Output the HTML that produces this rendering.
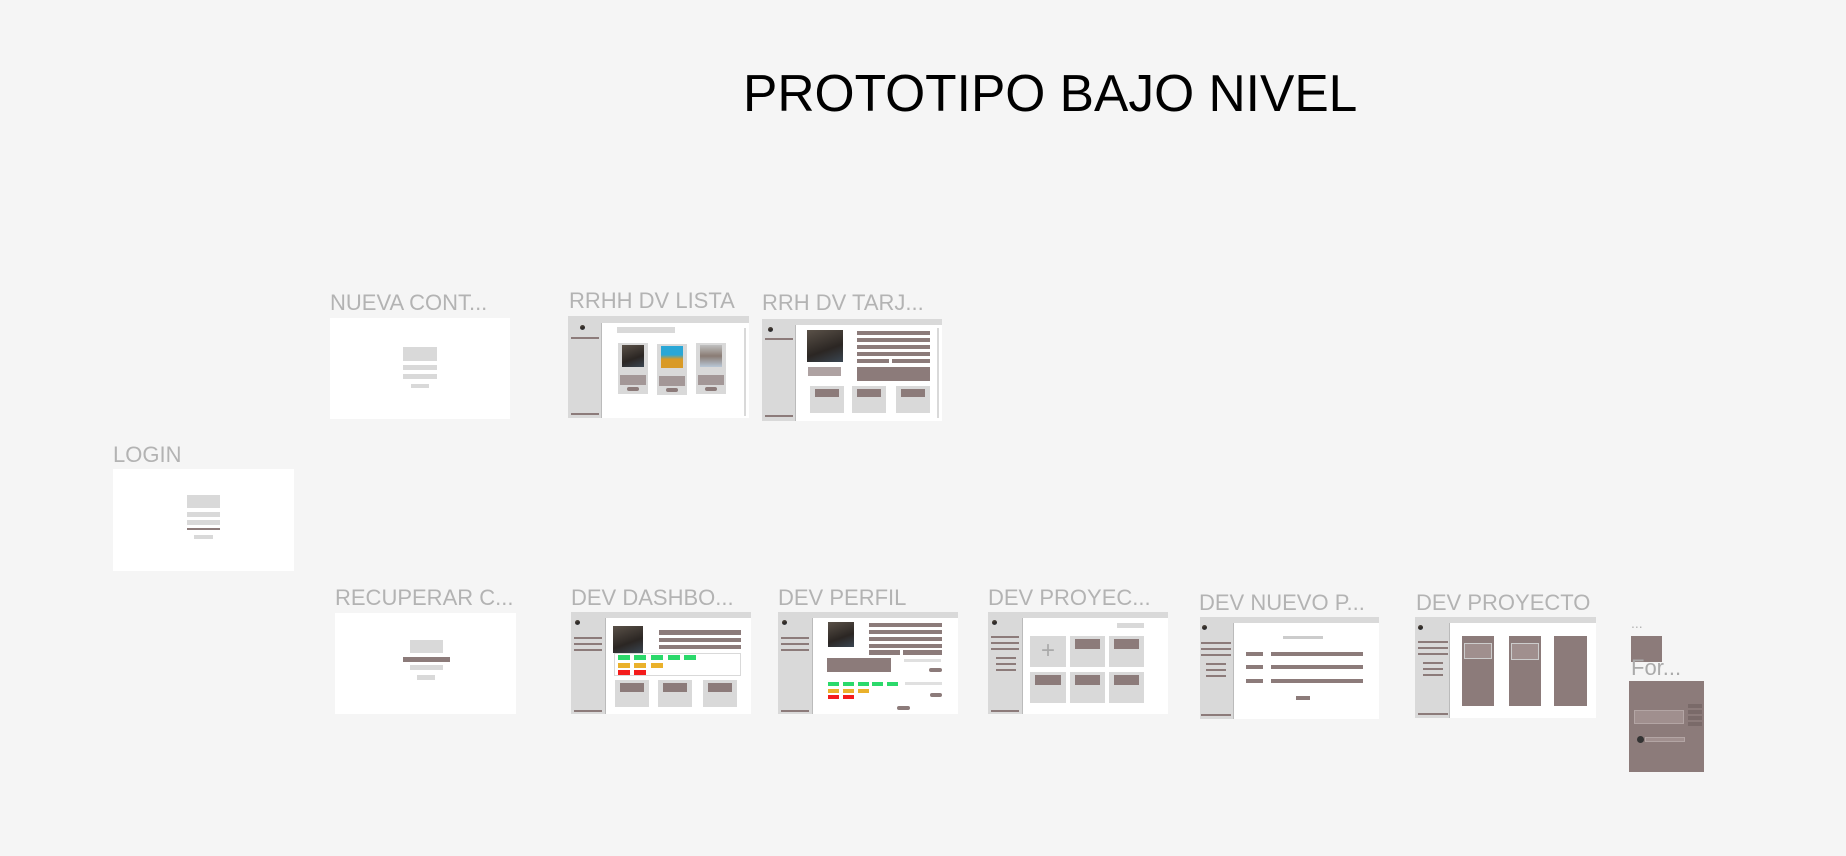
<!DOCTYPE html>
<html><head><meta charset="utf-8"><style>
*{margin:0;padding:0;box-sizing:border-box}
body{width:1846px;height:856px;background:#f5f5f5;position:relative;overflow:hidden;font-family:"Liberation Sans",sans-serif}
div{position:absolute}
.lbl{color:#b3b3b3;font-size:22px;white-space:nowrap;line-height:1}
.f{background:#fff}
.g{background:#d9d9d9}
.b{background:#8c7b7a}
.lg{background:#e0e0e0}
.gr{background:#2bd96b}
.or{background:#eab12b}
.rd{background:#f41c1c}
.ph{background:linear-gradient(160deg,#5a5148,#2b2623 60%,#3a4652)}
.pl{border-radius:3px}
</style></head><body>

<div style="left:743px;top:68px;font-size:51.5px;color:#000;white-space:nowrap;line-height:1">PROTOTIPO BAJO NIVEL</div>

<!-- LOGIN -->
<div class="lbl" style="left:113px;top:444px">LOGIN</div>
<div class="f" style="left:113px;top:469px;width:181px;height:102px"></div>
<div class="g" style="left:187px;top:495px;width:33px;height:13px"></div>
<div class="g" style="left:187px;top:512px;width:33px;height:5px"></div>
<div class="g" style="left:187px;top:520px;width:33px;height:5px"></div>
<div class="b" style="left:187px;top:528px;width:33px;height:2px"></div>
<div class="g" style="left:194px;top:535px;width:19px;height:4px"></div>

<!-- NUEVA -->
<div class="lbl" style="left:330px;top:292px">NUEVA CONT...</div>
<div class="f" style="left:330px;top:318px;width:180px;height:101px"></div>
<div class="g" style="left:403px;top:347px;width:34px;height:14px"></div>
<div class="g" style="left:403px;top:365px;width:34px;height:5px"></div>
<div class="g" style="left:403px;top:374px;width:34px;height:5px"></div>
<div class="g" style="left:411px;top:384px;width:18px;height:4px"></div>

<!-- RECUPERAR -->
<div class="lbl" style="left:335px;top:587px">RECUPERAR C...</div>
<div class="f" style="left:335px;top:613px;width:181px;height:101px"></div>
<div class="g" style="left:410px;top:640px;width:33px;height:13px"></div>
<div class="b" style="left:403px;top:657px;width:47px;height:5px"></div>
<div class="g" style="left:410px;top:665px;width:33px;height:5px"></div>
<div class="g" style="left:417px;top:675px;width:18px;height:5px"></div>

<!-- RRHH DV LISTA -->
<div class="lbl" style="left:569px;top:290px">RRHH DV LISTA</div>
<div class="f" style="left:568px;top:316px;width:181px;height:102px"></div>
<div class="g" style="left:568px;top:316px;width:181px;height:7px"></div>
<div class="g" style="left:568px;top:323px;width:34px;height:95px;border-right:1px solid #bbb"></div>
<div class="b" style="left:571px;top:337px;width:28px;height:2px"></div>
<div class="b" style="left:571px;top:413px;width:28px;height:2px"></div>
<div class="ph" style="left:580px;top:325px;width:5px;height:5px;border-radius:50%"></div>
<div class="g" style="left:617px;top:327px;width:58px;height:6px"></div>
<div class="g" style="left:744px;top:328px;width:2px;height:88px"></div>
<div class="g" style="left:618px;top:343px;width:30px;height:51px"></div>
<div class="ph" style="left:622px;top:345px;width:22px;height:22px"></div>
<div class="g" style="left:657px;top:344px;width:30px;height:51px"></div>
<div style="left:661px;top:346px;width:22px;height:22px;background:linear-gradient(#2aa7d6,#2aa7d6 40%,#d99a26 60%)"></div>
<div class="g" style="left:696px;top:343px;width:30px;height:51px"></div>
<div style="left:700px;top:345px;width:22px;height:22px;background:linear-gradient(#bfbfbf,#8a7c74 50%,#b8c7d6)"></div>
<div class="b" style="left:620px;top:375px;width:26px;height:10px;opacity:.7"></div>
<div class="b" style="left:659px;top:376px;width:26px;height:10px;opacity:.7"></div>
<div class="b" style="left:698px;top:375px;width:26px;height:10px;opacity:.7"></div>
<div class="b pl" style="left:627px;top:387px;width:12px;height:4px"></div>
<div class="b pl" style="left:666px;top:388px;width:12px;height:4px"></div>
<div class="b pl" style="left:705px;top:387px;width:12px;height:4px"></div>

<!-- RRH DV TARJ -->
<div class="lbl" style="left:762px;top:292px">RRH DV TARJ...</div>
<div class="f" style="left:762px;top:319px;width:180px;height:102px"></div>
<div class="g" style="left:762px;top:319px;width:180px;height:6px"></div>
<div class="g" style="left:762px;top:325px;width:34px;height:96px;border-right:1px solid #bbb"></div>
<div class="ph" style="left:768px;top:327px;width:5px;height:5px;border-radius:50%"></div>
<div class="b" style="left:765px;top:338px;width:28px;height:2px"></div>
<div class="b" style="left:765px;top:415px;width:28px;height:2px"></div>
<div class="g" style="left:937px;top:328px;width:2px;height:90px"></div>
<div class="ph" style="left:807px;top:330px;width:36px;height:32px"></div>
<div class="b" style="left:857px;top:331px;width:73px;height:4px"></div>
<div class="b" style="left:857px;top:338px;width:73px;height:4px"></div>
<div class="b" style="left:857px;top:345px;width:73px;height:4px"></div>
<div class="b" style="left:857px;top:352px;width:73px;height:4px"></div>
<div class="b" style="left:857px;top:359px;width:32px;height:4px"></div>
<div class="b" style="left:892px;top:359px;width:38px;height:4px"></div>
<div class="b" style="left:808px;top:367px;width:33px;height:9px;opacity:.7"></div>
<div class="b" style="left:857px;top:367px;width:73px;height:14px"></div>
<div class="g" style="left:810px;top:386px;width:34px;height:27px"></div>
<div class="b" style="left:815px;top:389px;width:24px;height:8px"></div>
<div class="g" style="left:852px;top:386px;width:34px;height:27px"></div>
<div class="b" style="left:857px;top:389px;width:24px;height:8px"></div>
<div class="g" style="left:896px;top:386px;width:34px;height:27px"></div>
<div class="b" style="left:901px;top:389px;width:24px;height:8px"></div>

<!-- DEV DASHBO -->
<div class="lbl" style="left:571px;top:587px">DEV DASHBO...</div>
<div class="f" style="left:571px;top:612px;width:180px;height:102px"></div>
<div class="g" style="left:571px;top:612px;width:180px;height:6px"></div>
<div class="g" style="left:571px;top:618px;width:35px;height:96px;border-right:1px solid #bbb"></div>
<div class="ph" style="left:575px;top:620px;width:5px;height:5px;border-radius:50%"></div>
<div class="b" style="left:574px;top:637px;width:28px;height:2px"></div>
<div class="b" style="left:574px;top:643px;width:28px;height:2px"></div>
<div class="b" style="left:574px;top:649px;width:28px;height:2px"></div>
<div class="b" style="left:574px;top:710px;width:28px;height:2px"></div>
<div class="ph" style="left:613px;top:626px;width:30px;height:27px"></div>
<div class="b" style="left:659px;top:630px;width:82px;height:5px"></div>
<div class="b" style="left:659px;top:638px;width:82px;height:4px"></div>
<div class="b" style="left:659px;top:645px;width:82px;height:4px"></div>
<div style="left:614px;top:653px;width:127px;height:23px;border:1px solid #d9d9d9"></div>
<div class="gr" style="left:618px;top:655px;width:12px;height:5px"></div>
<div class="gr" style="left:634px;top:655px;width:12px;height:5px"></div>
<div class="gr" style="left:651px;top:655px;width:12px;height:5px"></div>
<div class="gr" style="left:668px;top:655px;width:12px;height:5px"></div>
<div class="gr" style="left:684px;top:655px;width:12px;height:5px"></div>
<div class="or" style="left:618px;top:663px;width:12px;height:5px"></div>
<div class="or" style="left:634px;top:663px;width:12px;height:5px"></div>
<div class="or" style="left:651px;top:663px;width:12px;height:5px"></div>
<div class="rd" style="left:618px;top:670px;width:12px;height:5px"></div>
<div class="rd" style="left:634px;top:670px;width:12px;height:5px"></div>
<div class="g" style="left:615px;top:680px;width:34px;height:27px"></div>
<div class="b" style="left:620px;top:683px;width:24px;height:9px"></div>
<div class="g" style="left:658px;top:680px;width:34px;height:27px"></div>
<div class="b" style="left:663px;top:683px;width:24px;height:9px"></div>
<div class="g" style="left:703px;top:680px;width:34px;height:27px"></div>
<div class="b" style="left:708px;top:683px;width:24px;height:9px"></div>

<!-- DEV PERFIL -->
<div class="lbl" style="left:778px;top:587px">DEV PERFIL</div>
<div class="f" style="left:778px;top:612px;width:180px;height:102px"></div>
<div class="g" style="left:778px;top:612px;width:180px;height:6px"></div>
<div class="g" style="left:778px;top:618px;width:35px;height:96px;border-right:1px solid #bbb"></div>
<div class="ph" style="left:782px;top:620px;width:5px;height:5px;border-radius:50%"></div>
<div class="b" style="left:781px;top:637px;width:28px;height:2px"></div>
<div class="b" style="left:781px;top:643px;width:28px;height:2px"></div>
<div class="b" style="left:781px;top:649px;width:28px;height:2px"></div>
<div class="b" style="left:781px;top:710px;width:28px;height:2px"></div>
<div class="ph" style="left:828px;top:622px;width:26px;height:25px"></div>
<div class="b" style="left:869px;top:623px;width:73px;height:4px"></div>
<div class="b" style="left:869px;top:630px;width:73px;height:4px"></div>
<div class="b" style="left:869px;top:637px;width:73px;height:4px"></div>
<div class="b" style="left:869px;top:644px;width:73px;height:4px"></div>
<div class="b" style="left:869px;top:650px;width:31px;height:5px"></div>
<div class="b" style="left:903px;top:650px;width:39px;height:5px"></div>
<div class="b" style="left:827px;top:658px;width:64px;height:14px"></div>
<div class="lg" style="left:904px;top:659px;width:37px;height:3px"></div>
<div class="lg" style="left:905px;top:682px;width:37px;height:3px"></div>
<div class="b pl" style="left:929px;top:668px;width:13px;height:4px"></div>
<div class="b pl" style="left:930px;top:693px;width:12px;height:4px"></div>
<div class="b pl" style="left:897px;top:706px;width:13px;height:4px"></div>
<div class="gr" style="left:828px;top:682px;width:11px;height:4px"></div>
<div class="gr" style="left:843px;top:682px;width:11px;height:4px"></div>
<div class="gr" style="left:858px;top:682px;width:11px;height:4px"></div>
<div class="gr" style="left:872px;top:682px;width:11px;height:4px"></div>
<div class="gr" style="left:887px;top:682px;width:11px;height:4px"></div>
<div class="or" style="left:828px;top:689px;width:11px;height:4px"></div>
<div class="or" style="left:843px;top:689px;width:11px;height:4px"></div>
<div class="or" style="left:858px;top:689px;width:11px;height:4px"></div>
<div class="rd" style="left:828px;top:695px;width:11px;height:4px"></div>
<div class="rd" style="left:843px;top:695px;width:11px;height:4px"></div>

<!-- DEV PROYEC -->
<div class="lbl" style="left:988px;top:587px">DEV PROYEC...</div>
<div class="f" style="left:988px;top:612px;width:180px;height:102px"></div>
<div class="g" style="left:988px;top:612px;width:180px;height:6px"></div>
<div class="g" style="left:988px;top:618px;width:35px;height:96px;border-right:1px solid #bbb"></div>
<div class="ph" style="left:992px;top:620px;width:5px;height:5px;border-radius:50%"></div>
<div class="b" style="left:991px;top:636px;width:28px;height:2px"></div>
<div class="b" style="left:991px;top:642px;width:28px;height:2px"></div>
<div class="b" style="left:991px;top:648px;width:28px;height:2px"></div>
<div class="b" style="left:996px;top:657px;width:20px;height:2px"></div>
<div class="b" style="left:996px;top:663px;width:20px;height:2px"></div>
<div class="b" style="left:996px;top:669px;width:20px;height:2px"></div>
<div class="b" style="left:991px;top:710px;width:28px;height:2px"></div>
<div class="g" style="left:1117px;top:623px;width:27px;height:5px"></div>
<div class="g" style="left:1030px;top:636px;width:36px;height:31px;color:#aaa;font-size:24px;text-align:center;line-height:30px">+</div>
<div class="g" style="left:1070px;top:636px;width:35px;height:31px"></div>
<div class="b" style="left:1075px;top:639px;width:25px;height:10px"></div>
<div class="g" style="left:1109px;top:636px;width:35px;height:31px"></div>
<div class="b" style="left:1114px;top:639px;width:25px;height:10px"></div>
<div class="g" style="left:1030px;top:672px;width:36px;height:31px"></div>
<div class="b" style="left:1035px;top:675px;width:26px;height:10px"></div>
<div class="g" style="left:1070px;top:672px;width:35px;height:31px"></div>
<div class="b" style="left:1075px;top:675px;width:25px;height:10px"></div>
<div class="g" style="left:1109px;top:672px;width:35px;height:31px"></div>
<div class="b" style="left:1114px;top:675px;width:25px;height:10px"></div>

<!-- DEV NUEVO P -->
<div class="lbl" style="left:1199px;top:592px">DEV NUEVO P...</div>
<div class="f" style="left:1200px;top:617px;width:179px;height:102px"></div>
<div class="g" style="left:1200px;top:617px;width:179px;height:6px"></div>
<div class="g" style="left:1200px;top:623px;width:34px;height:96px;border-right:1px solid #bbb"></div>
<div class="ph" style="left:1202px;top:625px;width:5px;height:5px;border-radius:50%"></div>
<div class="b" style="left:1201px;top:642px;width:30px;height:2px"></div>
<div class="b" style="left:1201px;top:648px;width:30px;height:2px"></div>
<div class="b" style="left:1201px;top:654px;width:30px;height:2px"></div>
<div class="b" style="left:1206px;top:663px;width:20px;height:2px"></div>
<div class="b" style="left:1206px;top:669px;width:20px;height:2px"></div>
<div class="b" style="left:1206px;top:675px;width:20px;height:2px"></div>
<div class="b" style="left:1201px;top:714px;width:30px;height:2px"></div>
<div style="left:1283px;top:636px;width:40px;height:3px;background:#ccc"></div>
<div class="b" style="left:1246px;top:652px;width:17px;height:4px"></div>
<div class="b" style="left:1271px;top:652px;width:92px;height:4px"></div>
<div class="b" style="left:1246px;top:665px;width:17px;height:4px"></div>
<div class="b" style="left:1271px;top:665px;width:92px;height:4px"></div>
<div class="b" style="left:1246px;top:679px;width:17px;height:4px"></div>
<div class="b" style="left:1271px;top:679px;width:92px;height:4px"></div>
<div class="b" style="left:1296px;top:696px;width:14px;height:4px"></div>

<!-- DEV PROYECTO -->
<div class="lbl" style="left:1416px;top:592px">DEV PROYECTO</div>
<div class="f" style="left:1415px;top:617px;width:181px;height:101px"></div>
<div class="g" style="left:1415px;top:617px;width:181px;height:6px"></div>
<div class="g" style="left:1415px;top:623px;width:35px;height:95px;border-right:1px solid #bbb"></div>
<div class="ph" style="left:1418px;top:625px;width:5px;height:5px;border-radius:50%"></div>
<div class="b" style="left:1418px;top:641px;width:30px;height:2px"></div>
<div class="b" style="left:1418px;top:647px;width:30px;height:2px"></div>
<div class="b" style="left:1418px;top:653px;width:30px;height:2px"></div>
<div class="b" style="left:1423px;top:662px;width:20px;height:2px"></div>
<div class="b" style="left:1423px;top:668px;width:20px;height:2px"></div>
<div class="b" style="left:1423px;top:674px;width:20px;height:2px"></div>
<div class="b" style="left:1418px;top:713px;width:30px;height:2px"></div>
<div class="b" style="left:1462px;top:636px;width:32px;height:70px"></div>
<div style="left:1464px;top:643px;width:28px;height:16px;background:#a08f8e;border:1px solid #ccc"></div>
<div class="b" style="left:1509px;top:636px;width:32px;height:70px"></div>
<div style="left:1511px;top:643px;width:28px;height:17px;background:#a08f8e;border:1px solid #ccc"></div>
<div class="b" style="left:1554px;top:636px;width:33px;height:70px"></div>

<!-- small frames -->
<div class="lbl" style="left:1631px;top:616px;font-size:14px">...</div>
<div class="b" style="left:1631px;top:636px;width:31px;height:26px"></div>
<div class="lbl" style="left:1631px;top:657px;color:#aaa">For...</div>
<div class="b" style="left:1629px;top:681px;width:75px;height:91px"></div>
<div style="left:1634px;top:710px;width:50px;height:14px;background:#a08f8e;border:1px solid #b3a5a4"></div>
<div style="left:1637px;top:736px;width:7px;height:7px;border-radius:50%;background:#333"></div>
<div style="left:1645px;top:737px;width:40px;height:5px;background:#a08f8e;border:1px solid #b3a5a4"></div>
<div style="left:1688px;top:704px;width:14px;height:4px;background:#7a6a69"></div>
<div style="left:1688px;top:710px;width:14px;height:4px;background:#7a6a69"></div>
<div style="left:1688px;top:716px;width:14px;height:4px;background:#7a6a69"></div>
<div style="left:1688px;top:722px;width:14px;height:4px;background:#7a6a69"></div>
</body></html>
